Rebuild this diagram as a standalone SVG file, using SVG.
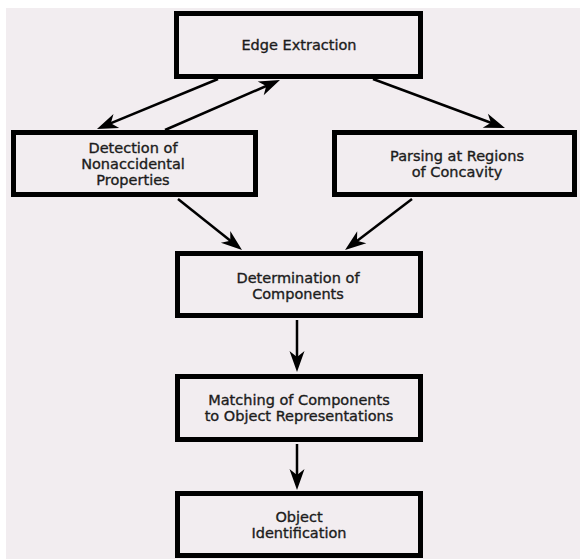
<svg xmlns="http://www.w3.org/2000/svg" width="580" height="559" viewBox="0 0 580 559">
  <style>
    .box rect { fill: none; stroke: #000; stroke-width: 5; }
    .box text { font-family: "DejaVu Sans", Verdana, sans-serif; font-size: 14.5px; fill: #1c1c1c; stroke: #1c1c1c; stroke-width: 0.35; text-anchor: middle; }
    .edges line { stroke: #000; stroke-width: 2.5; marker-end: url(#arrow); }
  </style>
  <defs>
    <marker id="arrow" markerUnits="userSpaceOnUse" viewBox="-24 -9 26 18" markerWidth="26" markerHeight="18" refX="-10" refY="0" orient="auto">
      <path d="M0,0 L-21,-7.5 L-15,0 L-21,7.5 Z" fill="#000"/>
    </marker>
  </defs>

  <rect x="0" y="0" width="580" height="559" fill="#ffffff"/>
  <rect x="6" y="8" width="574" height="551" fill="#f2edf0"/>

  <g class="edges">
    <line x1="218" y1="79" x2="106.2" y2="125.2"/>
    <line x1="165" y1="130" x2="270.8" y2="84"/>
    <line x1="373" y1="79" x2="495.6" y2="124.5"/>
    <line x1="178" y1="199" x2="234.2" y2="243.8"/>
    <line x1="412" y1="199" x2="353" y2="243.9"/>
    <line x1="297" y1="320" x2="297" y2="362"/>
    <line x1="297" y1="444" x2="297" y2="480"/>
  </g>

  <g id="edge-extraction" class="box">
    <rect x="176.5" y="13.5" width="244" height="63"/>
    <text x="299" y="50">Edge Extraction</text>
  </g>

  <g id="nonaccidental" class="box">
    <rect x="13.5" y="132.5" width="242" height="62"/>
    <text x="133" y="153">Detection of</text>
    <text x="133" y="169">Nonaccidental</text>
    <text x="133" y="185">Properties</text>
  </g>

  <g id="concavity" class="box">
    <rect x="334.5" y="132.5" width="240" height="62"/>
    <text x="457" y="161">Parsing at Regions</text>
    <text x="457" y="177">of Concavity</text>
  </g>

  <g id="components" class="box">
    <rect x="177.5" y="253.5" width="243" height="62"/>
    <text x="298" y="283">Determination of</text>
    <text x="298" y="299">Components</text>
  </g>

  <g id="matching" class="box">
    <rect x="177.5" y="376.5" width="243" height="63"/>
    <text x="299" y="405">Matching of Components</text>
    <text x="299" y="421">to Object Representations</text>
  </g>

  <g id="identification" class="box">
    <rect x="177.5" y="493.5" width="243" height="62"/>
    <text x="299" y="522">Object</text>
    <text x="299" y="538">Identification</text>
  </g>
</svg>
